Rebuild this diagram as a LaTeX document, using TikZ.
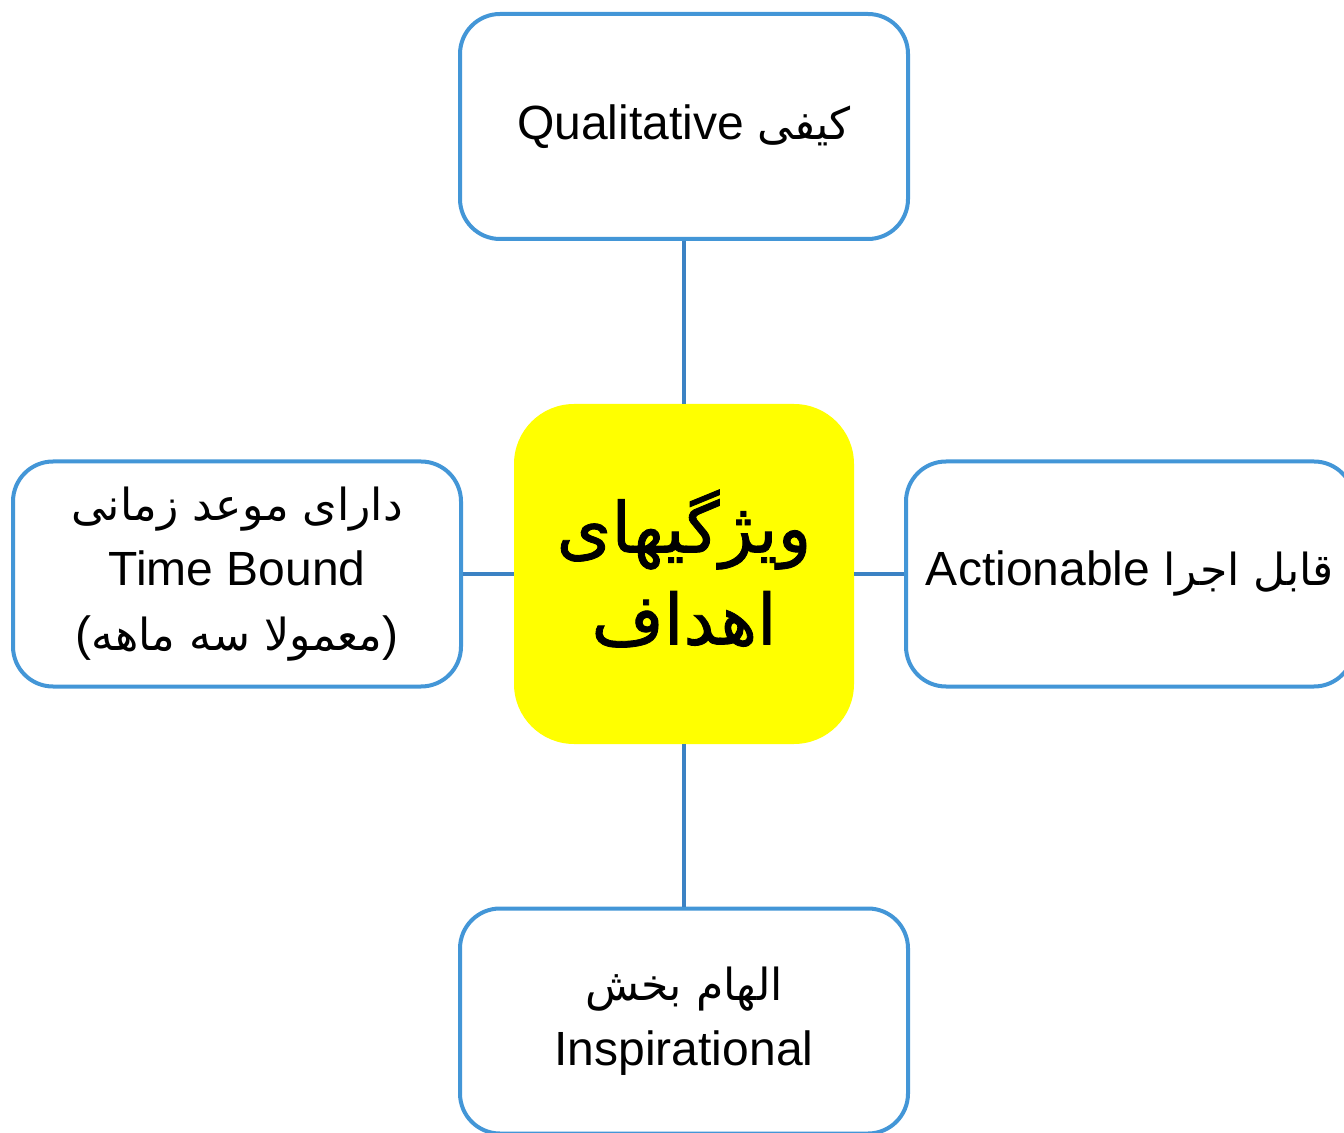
\documentclass[tikz,border=0pt]{standalone}
\usepackage{fontspec}
\setmainfont{Liberation Sans}
\newfontfamily\arfont[Script=Arabic,Scale=0.92]{DejaVu Sans}
\newfontfamily\hubfont[Script=Arabic,FakeBold=1.2]{DejaVu Sans}
\TeXXeTstate=1
\definecolor{boxblue}{RGB}{67,150,215}
\definecolor{lineblue}{RGB}{59,130,196}
\definecolor{hubyellow}{RGB}{255,255,0}
\begin{document}
\begin{tikzpicture}[x=0.5pt,y=-0.5pt,
  box/.style={draw=boxblue, line width=2pt, fill=white, rounded corners=20pt,
    minimum width=224pt, minimum height=112.5pt, inner sep=0pt, align=center,
    font=\fontsize{24}{32.5}\selectfont},
  hub/.style={fill=hubyellow, rounded corners=30pt, minimum width=170pt,
    minimum height=170pt, inner sep=0pt, align=center,
    font=\hubfont\fontsize{35}{46}\selectfont},
  link/.style={draw=lineblue, line width=2pt}]
\useasboundingbox (0,0) rectangle (1344,1133);
\clip (0,0) rectangle (1344,1133);
\node[hub] (c) at (684,574) {\raisebox{7pt}{\beginR ویژگیهای\endR}\\\raisebox{7pt}{\beginR اهداف\endR}};
\node[box] (t) at (684,126.5) {Qualitative {\arfont\beginR کیفی\endR}};
\node[box] (l) at (237,574) {{\arfont\beginR دارای موعد زمانی\endR}\\Time Bound\\({\arfont\beginR معمولا سه ماهه\endR})};
\node[box] (r) at (1130,574) {Actionable {\arfont\beginR قابل اجرا\endR}};
\node[box] (b) at (684,1021) {{\arfont\beginR الهام بخش\endR}\\Inspirational};
\draw[link] (t) -- (c);
\draw[link] (c) -- (b);
\draw[link] (l) -- (c);
\draw[link] (c) -- (r);
\end{tikzpicture}
\end{document}
